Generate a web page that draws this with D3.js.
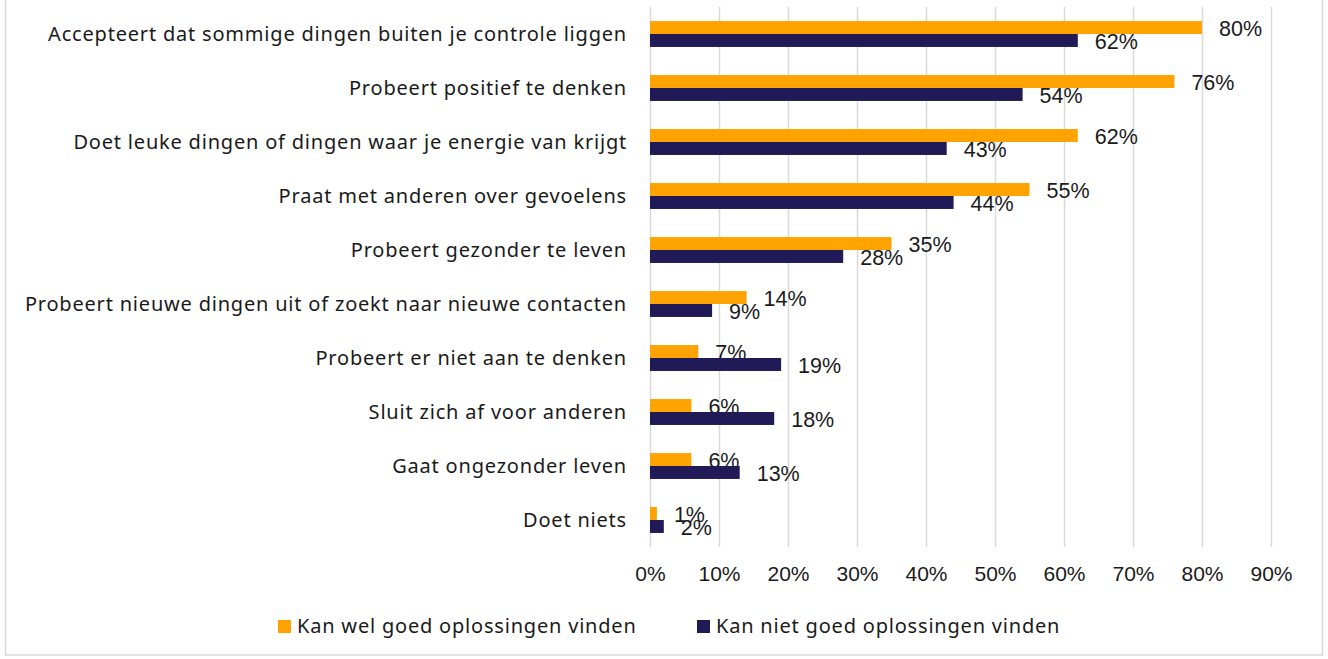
<!DOCTYPE html>
<html>
<head>
<meta charset="utf-8">
<script src="https://cdn.jsdelivr.net/npm/d3@7"></script>
<style>
  body { margin: 0; background: #fff; }
  svg { display: block; }
</style>
</head>
<body>
<div id="chart"></div>
<script>
// categories, top to bottom
const categories = [
  "Accepteert dat sommige dingen buiten je controle liggen",
  "Probeert positief te denken",
  "Doet leuke dingen of dingen waar je energie van krijgt",
  "Praat met anderen over gevoelens",
  "Probeert gezonder te leven",
  "Probeert nieuwe dingen uit of zoekt naar nieuwe contacten",
  "Probeert er niet aan te denken",
  "Sluit zich af voor anderen",
  "Gaat ongezonder leven",
  "Doet niets"
]
const seriesNames = ["Kan wel goed oplossingen vinden", "Kan niet goed oplossingen vinden"]
const welGoed = [80, 76, 62, 55, 35, 14, 7, 6, 6, 1]
const nietGoed = [62, 54, 43, 44, 28, 9, 19, 18, 13, 2]
const xTicks = [0, 10, 20, 30, 40, 50, 60, 70, 80, 90]

const width = 1328, height = 659
const plot = { left: 650, right: 1271, top: 7, bottom: 547 }
const color = ['#FFA300', '#201B57']
const labelFont = "'Liberation Sans', Arial, sans-serif"
const catFont = "'Noto Sans', 'Open Sans', sans-serif"

const svg = d3.select('#chart').append('svg')
  .attr('width', width)
  .attr('height', height)

// outer border
svg.append('rect')
  .attr('x', 5.5).attr('y', -2)
  .attr('width', 1317).attr('height', 657)
  .attr('fill', '#fff')
  .attr('stroke', '#d9d9d9')
  .attr('stroke-width', 1.5)

const xScale = d3.scaleLinear().domain([0, 90]).range([plot.left, plot.right])
const yScale = d3.scaleBand().domain(categories).range([plot.top, plot.bottom])
const groupH = yScale.bandwidth() * 0.48
const subScale = d3.scaleBand().domain([0, 1]).range([0, groupH])

// grid lines
svg.append('g')
  .attr('class', 'grid-lines')
  .selectAll('line')
  .data(xTicks)
  .join('line')
  .attr('x1', d => xScale(d) + 0.5)
  .attr('x2', d => xScale(d) + 0.5)
  .attr('y1', plot.top)
  .attr('y2', plot.bottom)
  .attr('stroke', '#d9d9d9')
  .attr('stroke-width', 1.5)

// x axis labels
const xAxis = svg.append('g')
  .attr('transform', 'translate(0,' + (plot.bottom + 27) + ')')
  .call(d3.axisBottom(xScale).tickValues(xTicks).tickFormat(d => d + '%').tickSize(0).tickPadding(0))
xAxis.select('.domain').remove()
xAxis.selectAll('text')
  .attr('dy', '0.35em')
  .attr('y', 0)
  .style('font-family', labelFont)
  .style('font-size', '21px')
  .attr('fill', '#1a1a1a')

// category labels
svg.append('g')
  .selectAll('text')
  .data(categories)
  .join('text')
  .attr('x', 627)
  .attr('y', d => yScale(d) + yScale.bandwidth() / 2)
  .attr('dy', '0.35em')
  .attr('text-anchor', 'end')
  .style('font-family', catFont)
  .style('font-size', '20px')
  .style('letter-spacing', '0.8px')
  .attr('fill', '#1a1a1a')
  .text(d => d)

const data = [welGoed, nietGoed]
data.forEach((vals, s) => {
  const rows = categories.map((c, i) => ({ c: c, v: vals[i] }))
  const yOf = d => yScale(d.c) + (yScale.bandwidth() - groupH) / 2 + subScale(s)

  svg.append('g')
    .selectAll('rect')
    .data(rows)
    .join('rect')
    .attr('x', xScale(0))
    .attr('y', yOf)
    .attr('width', d => xScale(d.v) - xScale(0))
    .attr('height', subScale.bandwidth())
    .attr('fill', color[s])

  svg.append('g')
    .selectAll('text')
    .data(rows)
    .join('text')
    .attr('x', d => xScale(d.v) + 17)
    .attr('y', d => yOf(d) + subScale.bandwidth() / 2 + 1)
    .attr('dy', '0.35em')
    .style('font-family', labelFont)
    .style('font-size', '21.5px')
    .attr('fill', '#1a1a1a')
    .text(d => d.v + '%')
})

// legend
const legendX = [278, 697]
const legend = svg.append('g')
  .selectAll('g')
  .data(seriesNames)
  .join('g')
  .attr('transform', (d, i) => 'translate(' + legendX[i] + ',626)')
legend.append('rect')
  .attr('x', 0).attr('y', -6)
  .attr('width', 13).attr('height', 13)
  .attr('fill', (d, i) => color[i])
legend.append('text')
  .attr('x', 19)
  .attr('dy', '0.35em')
  .style('font-family', catFont)
  .style('font-size', '20px')
  .style('letter-spacing', '0.8px')
  .attr('fill', '#1a1a1a')
  .text(d => d)
</script>
</body>
</html>
